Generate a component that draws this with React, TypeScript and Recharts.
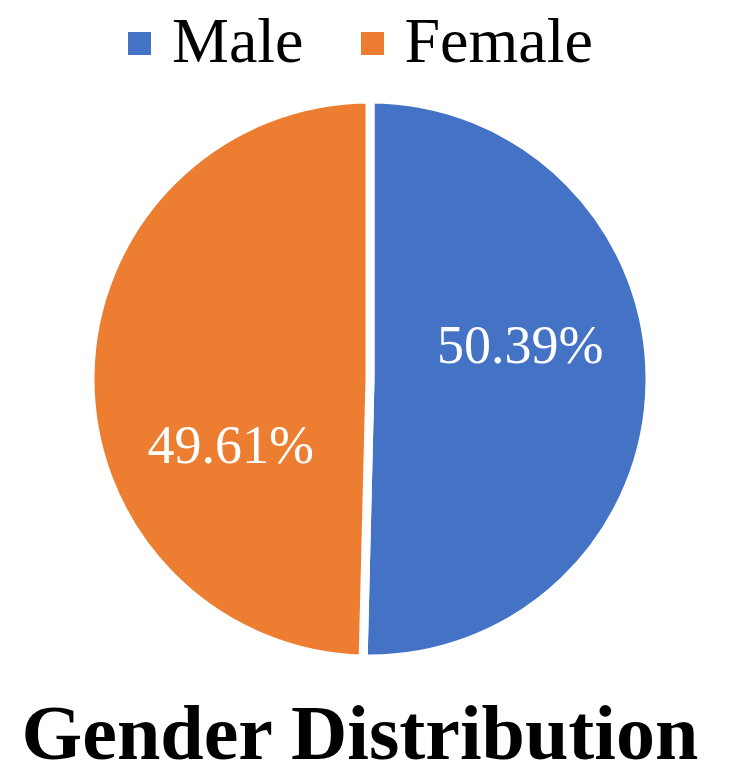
import React from 'react';
import { PieChart, Pie, Cell } from 'recharts';

const genders = ['Male', 'Female'];
const shares = [50.39, 49.61];
const colors = ['#4472C4', '#ED7D31'];

const data = genders.map((name, i) => ({ name, value: shares[i] }));

const FONT = '"Liberation Serif", "Times New Roman", serif';
const RADIAN = Math.PI / 180;
// Excel nudges the labels away from the mid angle a little
const labelTurn = [13.5, 26];

const renderLabel = (props: any) => {
  const { cx, cy, midAngle, outerRadius, index, value } = props;
  const r = outerRadius * 0.55;
  const a = (midAngle + labelTurn[index]) * RADIAN;
  const x = cx + r * Math.cos(-a);
  const y = cy + r * Math.sin(-a);
  return (
    <text x={x} y={y} dy="0.34em" textAnchor="middle" fill="#fff" fontFamily={FONT} fontSize={54}>
      {value.toFixed(2)}%
    </text>
  );
};

const GenderLegend = () => (
  <div style={{ position: 'absolute', left: 0, top: 0, display: 'flex', alignItems: 'center', paddingLeft: 128, paddingTop: 9, fontFamily: FONT, fontSize: 64, lineHeight: '64px', color: '#000' }}>
    {genders.map((g, i) => (
      <React.Fragment key={g}>
        <span style={{ display: 'inline-block', width: 23, height: 23, background: colors[i], marginRight: 21, position: 'relative', top: 2 }} />
        <span style={{ marginRight: 57 }}>{g}</span>
      </React.Fragment>
    ))}
  </div>
);

export default function App() {
  return (
    <div style={{ position: 'absolute', left: 0, top: 0, width: 748, height: 781, background: '#fff' }}>
      <PieChart width={748} height={781} margin={{ top: 0, right: 0, bottom: 0, left: 0 }}>
        <Pie
          data={data}
          dataKey="value"
          nameKey="name"
          cx={370}
          cy={379}
          outerRadius={280}
          startAngle={90}
          endAngle={-270}
          stroke="#fff"
          strokeWidth={9}
          label={renderLabel}
          labelLine={false}
          isAnimationActive={false}
        >
          {data.map((d, i) => (
            <Cell key={d.name} fill={colors[i]} />
          ))}
        </Pie>
      </PieChart>
      <GenderLegend />
      <div style={{ position: 'absolute', left: 0, top: 694, width: 720, textAlign: 'center', fontFamily: FONT, fontWeight: 'bold', fontSize: 78, lineHeight: '78px', color: '#000' }}>
        Gender Distribution
      </div>
    </div>
  );
}
